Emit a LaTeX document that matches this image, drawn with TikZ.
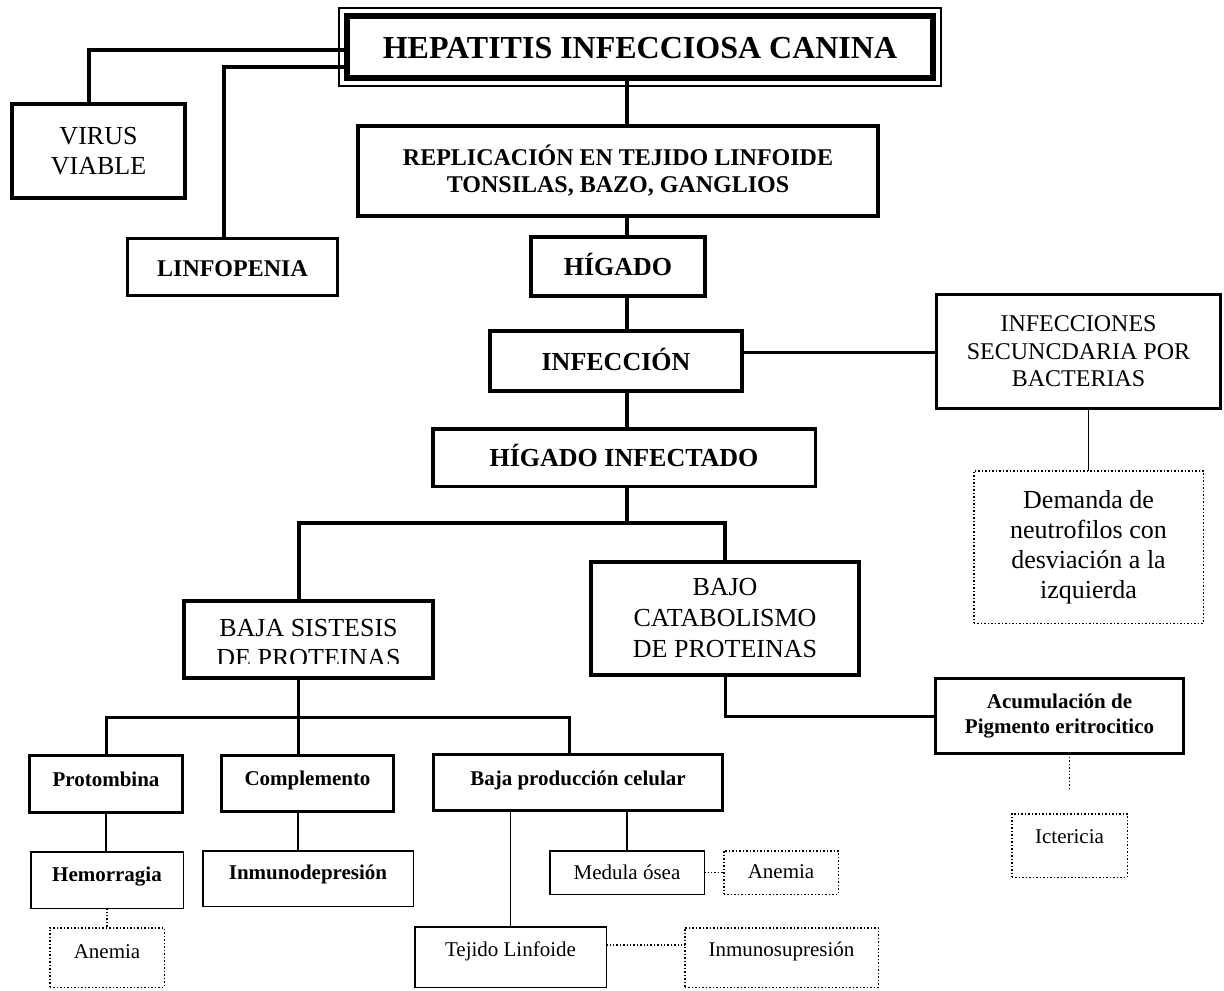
\documentclass[tikz,border=0pt]{standalone}
\usepackage{fontspec}
\setmainfont{Liberation Serif}
\usetikzlibrary{calc}

\newcommand{\tam}[2]{\fontsize{#1}{#2}\selectfont}

\tikzset{
  caja/.style={draw, inner sep=0pt, outer sep=0pt, align=center},
  cajagruesa/.style={caja, line width=2pt},
  cajamedia/.style={caja, line width=1.5pt},
  cajafina/.style={caja, line width=0.75pt},
  cajapunteada/.style={caja, line width=0.75pt, densely dotted},
  lineaeje/.style={line width=2.4pt},
  lineagruesa/.style={line width=1.8pt},
  lineamedia/.style={line width=1.5pt},
  lineafina/.style={line width=0.7pt},
  lineapunteada/.style={line width=0.7pt, densely dotted},
  textogrande/.style={font=\tam{13}{15}},
  negrita/.style={font=\tam{13}{15}\bfseries, text height=9.1pt, text depth=0pt},
  chica/.style={font=\tam{10.5}{12.5}, text height=7.4pt, text depth=2.6pt},
  chicanegrita/.style={chica, font=\tam{10.5}{12.5}\bfseries},
}

\begin{document}
\begin{tikzpicture}[x=0.5pt, y=-0.5pt]
  \useasboundingbox (0,0) rectangle (1224,990);

  % Eje vertical del esquema
  \coordinate (eje) at (627,0);

  % Titulo
  \node[caja, line width=3pt, minimum width=293pt, minimum height=31pt,
        font=\tam{16}{19}\bfseries, text height=11.2pt, text depth=0pt]
        (titulo) at (640,47) {HEPATITIS INFECCIOSA CANINA};
  \draw[line width=0.6pt] ([shift={(-4pt,4pt)}]titulo.north west)
    rectangle ([shift={(4pt,-4pt)}]titulo.south east);

  % Virus y linfopenia
  \node[cajagruesa, minimum width=86.5pt, minimum height=47pt, textogrande]
        (virus) at (98.5,151) {VIRUS\\VIABLE};
  \node[cajamedia, minimum width=105pt, minimum height=28.5pt, negrita,
        font=\tam{12}{14}\bfseries] (linfopenia) at (232.5,267) {LINFOPENIA};
  \draw[lineagruesa] ([yshift=-1.5pt]titulo.west) -| ([xshift=-4.75pt]virus.north);
  \draw[lineagruesa] ([yshift=-10pt]titulo.west) -| ([xshift=-4.25pt]linfopenia.north);

  % Columna central
  \node[cajagruesa, minimum width=260pt, minimum height=45pt,
        font=\tam{12}{13.5}\bfseries] (replicacion) at (618,171)
        {REPLICACIÓN EN TEJIDO LINFOIDE\\TONSILAS, BAZO, GANGLIOS};
  \node[cajagruesa, minimum width=87pt, minimum height=29.5pt, negrita]
        (higado) at (618,266.5) {HÍGADO};
  \node[cajagruesa, minimum width=126pt, minimum height=30pt, negrita]
        (infeccion) at (616,361) {INFECCIÓN};
  \node[caja, line width=1.75pt, minimum width=191.25pt, minimum height=28.75pt, negrita]
        (higinfectado) at (624,457.5) {HÍGADO INFECTADO};
  \draw[lineaeje] (titulo.south -| eje) -- (replicacion.north -| eje);
  \draw[lineaeje] (replicacion.south -| eje) -- (higado.north -| eje);
  \draw[lineaeje] (higado.south -| eje) -- (infeccion.north -| eje);
  \draw[lineaeje] (infeccion.south -| eje) -- (higinfectado.north -| eje);

  % Infecciones secundarias
  \node[cajamedia, minimum width=142pt, minimum height=57pt, font=\tam{12}{13.75}]
        (secundaria) at (1078.5,351.5) {INFECCIONES\\SECUNCDARIA POR\\BACTERIAS};
  \node[cajapunteada, minimum width=114.75pt, minimum height=76.25pt, textogrande]
        (demanda) at (1088.5,547) {Demanda de\\neutrofilos con\\desviación a la\\izquierda};
  \draw[lineamedia] ([yshift=4.5pt]infeccion.east) -- ([yshift=4.5pt]infeccion.east -| secundaria.west);
  \draw[lineafina] (secundaria.south -| demanda.north) -- (demanda.north);

  % Sintesis y catabolismo
  \coordinate (corte) at (0,663);
  \node[cajagruesa, minimum width=124.5pt, minimum height=38.5pt]
        (sintesis) at (308.5,639.5) {};
  \begin{scope}
    \clip (sintesis.north west) rectangle (sintesis.east |- corte);
    \node[textogrande, align=center] (sintesistexto) at (308.5,643)
          {BAJA SISTESIS\\DE PROTEINAS};
  \end{scope}
  \node[cajagruesa, minimum width=134pt, minimum height=56.5pt, font=\tam{13}{15.5}]
        (catabolismo) at (725,618.5) {BAJO\\CATABOLISMO\\DE PROTEINAS};
  \coordinate (rama1) at (627,523);
  \draw[lineagruesa] (higinfectado.south -| eje) -- (rama1);
  \draw[lineagruesa] ([xshift=-4.75pt]sintesis.north) |- (rama1) -| (catabolismo.north);

  % Acumulacion e ictericia
  \node[cajamedia, minimum width=124pt, minimum height=37.5pt, font=\tam{10.5}{12.5}\bfseries]
        (acumulacion) at (1059.5,716) {Acumulación de\\Pigmento eritrocitico};
  \node[cajapunteada, minimum width=57.75pt, minimum height=31.75pt, chica, text depth=9pt]
        (ictericia) at (1069.5,845.5) {Ictericia};
  \draw[lineamedia] (catabolismo.south) |- (acumulacion.west);
  \draw[lineapunteada, shorten >=11.5pt] (acumulacion.south -| ictericia.north) -- (ictericia.north);

  % Tres ramas de la sintesis
  \node[cajamedia, minimum width=76.5pt, minimum height=28.5pt, chicanegrita, text depth=4.5pt]
        (protombina) at (106,784) {Protombina};
  \node[cajamedia, minimum width=86pt, minimum height=28pt, chicanegrita, text depth=5pt]
        (complemento) at (307.5,783.5) {Complemento};
  \node[cajamedia, minimum width=144.5pt, minimum height=28pt, chicanegrita, text depth=4pt]
        (produccion) at (578,782.5) {Baja producción celular};
  \coordinate (rama2) at (298,717);
  \draw[lineamedia] (sintesis.south -| rama2) -- (complemento.north -| rama2);
  \draw[lineamedia] (protombina.north) |- (rama2) -| ([xshift=-4.5pt]produccion.north);

  % Consecuencias
  \node[cajafina, minimum width=76.25pt, minimum height=28.25pt, chicanegrita, text depth=5.5pt]
        (hemorragia) at (107,880) {Hemorragia};
  \node[cajafina, minimum width=105.25pt, minimum height=27.75pt, chicanegrita, text depth=6pt]
        (inmunodepresion) at (308,878.5) {Inmunodepresión};
  \node[cajafina, minimum width=77.25pt, minimum height=21.75pt, chica, text depth=0.5pt]
        (medula) at (627,872.5) {Medula ósea};
  \node[cajapunteada, minimum width=57.25pt, minimum height=21.75pt, chica, text depth=1pt]
        (anemiaderecha) at (781,872.5) {Anemia};
  \node[cajapunteada, minimum width=57.25pt, minimum height=29.75pt, chica, text depth=6pt]
        (anemiaizquierda) at (107,957.5) {Anemia};
  \node[cajafina, minimum width=95.75pt, minimum height=30.25pt, chica, text depth=7.5pt]
        (tejido) at (510.5,957) {Tejido Linfoide};
  \node[cajapunteada, minimum width=96.75pt, minimum height=29.75pt, chica, text depth=8pt]
        (inmunosupresion) at (781.5,957.5) {Inmunosupresión};
  \draw[lineafina] (protombina.south) -- (protombina.south |- hemorragia.north);
  \draw[lineafina] (complemento.south -| rama2) -- (inmunodepresion.north -| rama2);
  \draw[lineapunteada] (hemorragia.south) -- (anemiaizquierda.north);
  \draw[lineafina] (produccion.south -| medula.north) -- (medula.north);
  \draw[lineafina] (produccion.south -| tejido.north) -- (tejido.north);
  \draw[lineapunteada] (medula.east) -- (anemiaderecha.west);
  \draw[lineapunteada] ([yshift=6pt]tejido.east) -- ([yshift=6pt]tejido.east -| inmunosupresion.west);

\end{tikzpicture}
\end{document}
